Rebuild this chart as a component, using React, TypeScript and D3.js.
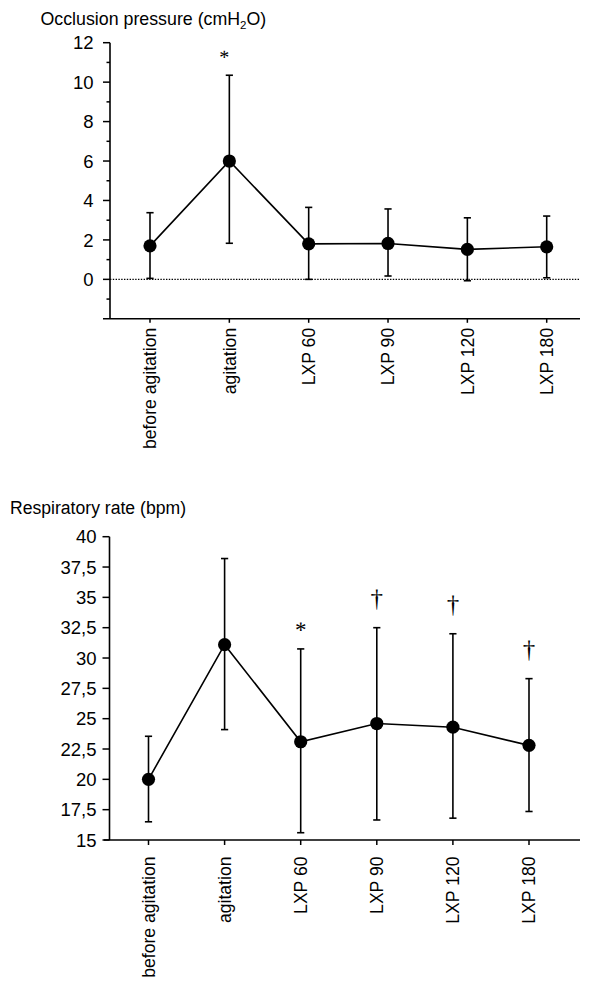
import React from 'react';
import * as d3 from 'd3';

const categories = ['before agitation', 'agitation', 'LXP 60', 'LXP 90', 'LXP 120', 'LXP 180'];

const occlusionMean = [1.7, 6.0, 1.8, 1.82, 1.52, 1.65];
const occlusionUpper = [3.38, 10.35, 3.65, 3.57, 3.12, 3.21];
const occlusionLower = [0.05, 1.83, 0.0, 0.17, -0.07, 0.08];
const occlusionMarks = ['', '*', '', '', '', ''];
const occlusionTicks = [0, 2, 4, 6, 8, 10, 12];
const occlusionMinorTicks = [-1, 1, 3, 5, 7, 9, 11];

const rrMean = [20.0, 31.1, 23.1, 24.6, 24.3, 22.8];
const rrUpper = [23.55, 38.2, 30.75, 32.5, 32.0, 28.3];
const rrLower = [16.5, 24.1, 15.6, 16.65, 16.8, 17.35];
const rrMarks = ['', '', '*', '\u2020', '\u2020', '\u2020'];
const rrTicks = [15, 17.5, 20, 22.5, 25, 27.5, 30, 32.5, 35, 37.5, 40];

const FONT = "'Liberation Sans', Arial, Helvetica, sans-serif";
const SERIF = "'Liberation Serif', 'Times New Roman', serif";

type PanelProps = {
  means: number[];
  uppers: number[];
  lowers: number[];
  marks: string[];
  yDomain: [number, number];
  yPix: [number, number];
  xPix: [number, number];
  axisX: number;
  xAxisStart: number;
  xAxisEnd: number;
  tickLabelRight: number;
  majorTicks: number[];
  minorTicks: number[];
  labelTopGap: number;
  xTickLen: number;
  zeroLine: boolean;
  markDx: number;
  starSize: number;
};

const fmt = (v: number) => String(v).replace('.', ',');

function Panel(p: PanelProps) {
  const y = d3.scaleLinear().domain(p.yDomain).range(p.yPix);
  const x = d3.scalePoint<string>().domain(categories).range(p.xPix).padding(0);
  const axisY = y(p.yDomain[0]);
  const yTop = y(p.yDomain[1]);
  const pts = categories.map((c, i) => [x(c) as number, y(p.means[i])] as [number, number]);
  const line = d3.line()(pts) || '';
  return (
    <g>
      {p.zeroLine && (
        <line x1={p.axisX} x2={p.xAxisEnd} y1={y(0)} y2={y(0)} stroke="#000" strokeWidth={1.3} strokeDasharray="1.4,1.4" />
      )}
      {/* y axis */}
      <line x1={p.axisX} x2={p.axisX} y1={yTop} y2={axisY} stroke="#000" strokeWidth={1.6} />
      {p.majorTicks.map((t) => (
        <g key={'mt' + t}>
          <line x1={p.axisX - 7} x2={p.axisX} y1={y(t)} y2={y(t)} stroke="#000" strokeWidth={1.5} />
          <text x={p.tickLabelRight} y={y(t)} dy="0.36em" textAnchor="end" fontFamily={FONT} fontSize={18.5} fill="#000">
            {fmt(t)}
          </text>
        </g>
      ))}
      {p.minorTicks.map((t) => (
        <line key={'mn' + t} x1={p.axisX - 3.5} x2={p.axisX} y1={y(t)} y2={y(t)} stroke="#000" strokeWidth={1.5} />
      ))}
      {/* x axis */}
      <line x1={p.xAxisStart} x2={p.xAxisEnd} y1={axisY} y2={axisY} stroke="#000" strokeWidth={1.6} />
      {categories.map((c) => (
        <g key={'xt' + c}>
          <line x1={x(c)} x2={x(c)} y1={axisY} y2={axisY + p.xTickLen} stroke="#000" strokeWidth={1.5} />
          <text
            transform={`translate(${x(c)},${axisY + p.labelTopGap}) rotate(-90)`}
            dy="0.35em"
            textAnchor="end"
            fontFamily={FONT}
            fontSize={17.6}
            fill="#000"
          >
            {c}
          </text>
        </g>
      ))}
      {/* error bars */}
      {categories.map((c, i) => {
        const cx = x(c) as number;
        return (
          <g key={'eb' + c} stroke="#000" strokeWidth={1.6}>
            <line x1={cx} x2={cx} y1={y(p.uppers[i])} y2={y(p.lowers[i])} />
            <line x1={cx - 3.6} x2={cx + 3.6} y1={y(p.uppers[i])} y2={y(p.uppers[i])} />
            <line x1={cx - 3.6} x2={cx + 3.6} y1={y(p.lowers[i])} y2={y(p.lowers[i])} />
          </g>
        );
      })}
      <path d={line} fill="none" stroke="#000" strokeWidth={1.6} />
      {pts.map(([px, py], i) => (
        <circle key={'pt' + i} cx={px} cy={py} r={6.6} fill="#000" />
      ))}
      {categories.map((c, i) => {
        const m = p.marks[i];
        if (!m) return null;
        const cx = (x(c) as number) + (m === '*' ? p.markDx : 0);
        const cap = y(p.uppers[i]);
        const by = m === '*' ? cap - 11.5 : cap - 21;
        return (
          <text
            key={'mk' + c}
            x={cx}
            y={by}
            transform={`rotate(0.05 ${cx} ${by})`}
            textAnchor="middle"
            fontFamily={SERIF}
            fontSize={m === '*' ? p.starSize : 25}
            fill="#000"
          >
            {m}
          </text>
        );
      })}
    </g>
  );
}

export default function App() {
  return (
    <svg width={600} height={990} style={{ position: 'absolute', left: 0, top: 0, background: '#fff' }}>
      <rect x={0} y={0} width={600} height={990} fill="#fff" />
      <text x={40.5} y={25} fontFamily={FONT} fontSize={17.8} fill="#000">
        Occlusion pressure (cmH<tspan fontSize={11.5} dy={4}>2</tspan>
        <tspan dy={-4}>O)</tspan>
      </text>
      <Panel
        means={occlusionMean}
        uppers={occlusionUpper}
        lowers={occlusionLower}
        marks={occlusionMarks}
        yDomain={[-2, 12]}
        yPix={[318.8, 42.7]}
        xPix={[150, 546.7]}
        axisX={110}
        xAxisStart={103}
        xAxisEnd={580}
        tickLabelRight={93.5}
        majorTicks={occlusionTicks}
        minorTicks={occlusionMinorTicks}
        labelTopGap={9}
        xTickLen={4}
        zeroLine={true}
        markDx={-5}
        starSize={20}
      />
      <text x={10} y={514} fontFamily={FONT} fontSize={17.6} fill="#000">
        Respiratory rate (bpm)
      </text>
      <Panel
        means={rrMean}
        uppers={rrUpper}
        lowers={rrLower}
        marks={rrMarks}
        yDomain={[15, 40]}
        yPix={[840, 536.7]}
        xPix={[148.5, 529]}
        axisX={109.5}
        xAxisStart={104}
        xAxisEnd={580}
        tickLabelRight={96.5}
        majorTicks={rrTicks}
        minorTicks={[]}
        labelTopGap={16.5}
        xTickLen={5}
        zeroLine={false}
        markDx={0}
        starSize={23}
      />
    </svg>
  );
}
